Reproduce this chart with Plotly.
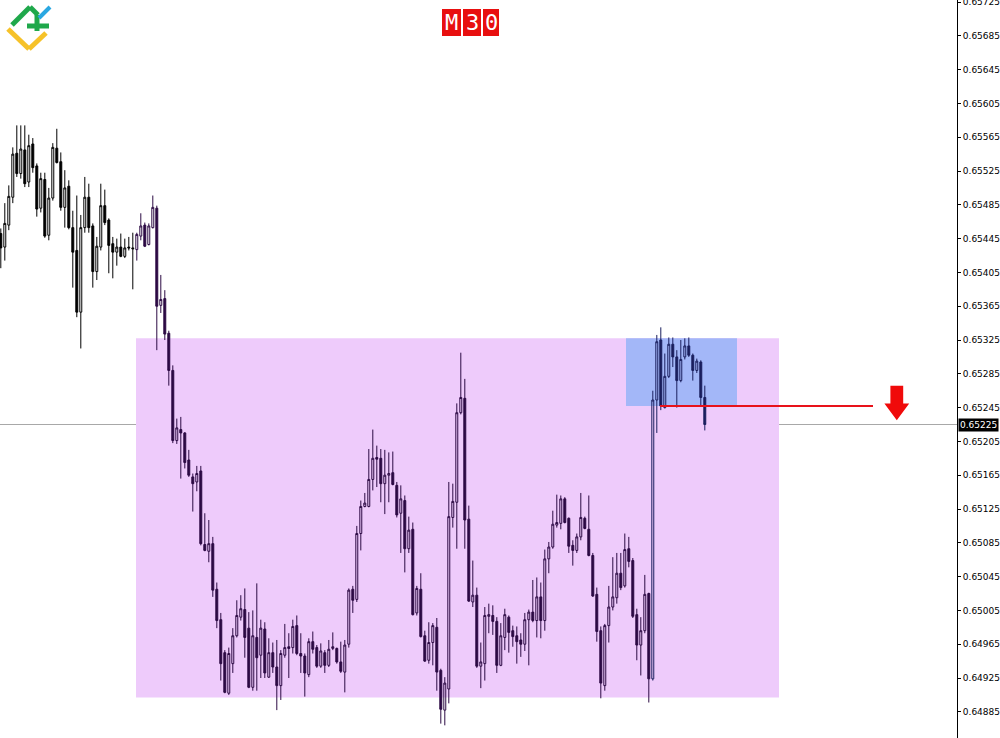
import plotly.graph_objects as go

# ---------------- data ----------------
opens = [
    0.65451, 0.65435, 0.65461, 0.65494, 0.65546, 0.65522, 0.65550, 0.65512, 0.65557, 0.65531,
    0.65481, 0.65515, 0.65449, 0.65493, 0.65552, 0.65536, 0.65482, 0.65507, 0.65458, 0.65431,
    0.65358, 0.65458, 0.65494, 0.65460, 0.65406, 0.65435, 0.65484, 0.65467, 0.65439, 0.65429,
    0.65435, 0.65424, 0.65435, 0.65434, 0.65432, 0.65448, 0.65461, 0.65438, 0.65458, 0.65481,
    0.65366, 0.65374, 0.65333, 0.65289, 0.65206, 0.65219, 0.65215, 0.65183, 0.65163, 0.65157,
    0.65170, 0.65083, 0.65075, 0.65084, 0.65030, 0.64994, 0.64955, 0.64907, 0.64942, 0.64975,
    0.64997, 0.65006, 0.64984, 0.64914, 0.64973, 0.64952, 0.64983, 0.64926, 0.64955, 0.64938,
    0.64916, 0.64952, 0.64962, 0.64961, 0.64987, 0.64954, 0.64951, 0.64929, 0.64968, 0.64961,
    0.64939, 0.64955, 0.64940, 0.64960, 0.64960, 0.64944, 0.64932, 0.64965, 0.65030, 0.65018,
    0.65096, 0.65128, 0.65128, 0.65160, 0.65186, 0.65185, 0.65155, 0.65165, 0.65168, 0.65153,
    0.65120, 0.65135, 0.65078, 0.65101, 0.65002, 0.65030, 0.64975, 0.64946, 0.64967, 0.64985,
    0.64934, 0.64887, 0.64912, 0.65115, 0.65133, 0.65239, 0.65256, 0.65113, 0.65015, 0.65023,
    0.64939, 0.64942, 0.64998, 0.64999, 0.64992, 0.64940, 0.64973, 0.64997, 0.64981, 0.64975,
    0.64970, 0.64965, 0.64994, 0.65003, 0.64993, 0.65021, 0.64993, 0.65066, 0.65080, 0.65106,
    0.65108, 0.65137, 0.65114, 0.65082, 0.65076, 0.65092, 0.65114, 0.65101, 0.65070, 0.65024,
    0.64981, 0.64916, 0.64987, 0.65009, 0.65020, 0.65049, 0.65034, 0.65078, 0.65064, 0.65000,
    0.64964, 0.64981, 0.65025, 0.64924, 0.65254, 0.65325, 0.65245, 0.65282, 0.65320, 0.65305,
    0.65277, 0.65305, 0.65318, 0.65307, 0.65289, 0.65299, 0.65257,
]
highs = [
    0.65457, 0.65487, 0.65508, 0.65553, 0.65579, 0.65579, 0.65579, 0.65568, 0.65564, 0.65534,
    0.65523, 0.65523, 0.65505, 0.65558, 0.65575, 0.65547, 0.65526, 0.65514, 0.65478, 0.65496,
    0.65473, 0.65518, 0.65510, 0.65463, 0.65447, 0.65510, 0.65503, 0.65469, 0.65447, 0.65445,
    0.65451, 0.65445, 0.65447, 0.65452, 0.65452, 0.65475, 0.65464, 0.65463, 0.65496, 0.65484,
    0.65402, 0.65384, 0.65336, 0.65295, 0.65232, 0.65234, 0.65216, 0.65195, 0.65167, 0.65176,
    0.65176, 0.65120, 0.65112, 0.65092, 0.65038, 0.65002, 0.64958, 0.64961, 0.64984, 0.65017,
    0.65023, 0.65031, 0.65003, 0.65005, 0.65037, 0.64994, 0.64991, 0.64972, 0.64967, 0.64970,
    0.64958, 0.64989, 0.64978, 0.64994, 0.64999, 0.64978, 0.64954, 0.64972, 0.64980, 0.64964,
    0.64966, 0.64958, 0.64970, 0.64979, 0.64961, 0.64968, 0.64970, 0.65031, 0.65034, 0.65105,
    0.65135, 0.65144, 0.65196, 0.65219, 0.65200, 0.65196, 0.65195, 0.65192, 0.65193, 0.65157,
    0.65153, 0.65141, 0.65116, 0.65109, 0.65034, 0.65049, 0.64981, 0.64991, 0.64990, 0.64996,
    0.64936, 0.64926, 0.65157, 0.65155, 0.65250, 0.65310, 0.65279, 0.65129, 0.65064, 0.65032,
    0.64967, 0.65009, 0.65013, 0.65011, 0.64997, 0.64990, 0.65007, 0.64999, 0.64987, 0.64986,
    0.64978, 0.65002, 0.65006, 0.65041, 0.65044, 0.65038, 0.65077, 0.65086, 0.65123, 0.65142,
    0.65141, 0.65139, 0.65115, 0.65088, 0.65096, 0.65144, 0.65116, 0.65141, 0.65073, 0.65032,
    0.64986, 0.64989, 0.65034, 0.65068, 0.65073, 0.65073, 0.65096, 0.65092, 0.65067, 0.65007,
    0.64997, 0.65047, 0.65026, 0.65265, 0.65331, 0.65340, 0.65309, 0.65328, 0.65328, 0.65313,
    0.65325, 0.65327, 0.65328, 0.65309, 0.65303, 0.65301, 0.65271,
]
lows = [
    0.65410, 0.65419, 0.65455, 0.65487, 0.65518, 0.65516, 0.65506, 0.65506, 0.65523, 0.65471,
    0.65476, 0.65446, 0.65443, 0.65490, 0.65534, 0.65478, 0.65458, 0.65456, 0.65387, 0.65352,
    0.65315, 0.65452, 0.65452, 0.65387, 0.65396, 0.65431, 0.65461, 0.65404, 0.65398, 0.65413,
    0.65423, 0.65422, 0.65431, 0.65385, 0.65419, 0.65443, 0.65435, 0.65437, 0.65457, 0.65313,
    0.65357, 0.65325, 0.65271, 0.65203, 0.65202, 0.65161, 0.65173, 0.65163, 0.65122, 0.65146,
    0.65082, 0.65075, 0.65062, 0.65021, 0.64984, 0.64922, 0.64907, 0.64905, 0.64931, 0.64973,
    0.64993, 0.64949, 0.64913, 0.64910, 0.64910, 0.64925, 0.64925, 0.64925, 0.64931, 0.64887,
    0.64899, 0.64949, 0.64925, 0.64954, 0.64952, 0.64931, 0.64903, 0.64926, 0.64954, 0.64937,
    0.64937, 0.64931, 0.64938, 0.64958, 0.64942, 0.64931, 0.64908, 0.64961, 0.65002, 0.65015,
    0.65076, 0.65127, 0.65127, 0.65147, 0.65151, 0.65133, 0.65119, 0.65133, 0.65153, 0.65115,
    0.65073, 0.65050, 0.65073, 0.64999, 0.64999, 0.64973, 0.64944, 0.64942, 0.64940, 0.64910,
    0.64871, 0.64869, 0.64895, 0.65103, 0.65078, 0.65237, 0.65078, 0.65015, 0.65009, 0.64937,
    0.64913, 0.64922, 0.64978, 0.64976, 0.64931, 0.64939, 0.64958, 0.64955, 0.64962, 0.64942,
    0.64950, 0.64957, 0.64940, 0.64991, 0.64973, 0.64972, 0.64981, 0.65049, 0.65078, 0.65103,
    0.65101, 0.65108, 0.65073, 0.65058, 0.65073, 0.65088, 0.65101, 0.65069, 0.65021, 0.64968,
    0.64901, 0.64910, 0.64967, 0.65005, 0.65013, 0.65029, 0.65032, 0.65056, 0.64996, 0.64946,
    0.64928, 0.64978, 0.64896, 0.64922, 0.65215, 0.65242, 0.65244, 0.65280, 0.65293, 0.65245,
    0.65275, 0.65302, 0.65305, 0.65277, 0.65286, 0.65248, 0.65218,
]
closes = [
    0.65434, 0.65463, 0.65495, 0.65545, 0.65522, 0.65551, 0.65510, 0.65555, 0.65529, 0.65480,
    0.65516, 0.65448, 0.65493, 0.65553, 0.65535, 0.65482, 0.65505, 0.65458, 0.65429, 0.65358,
    0.65458, 0.65494, 0.65458, 0.65406, 0.65436, 0.65484, 0.65464, 0.65437, 0.65429, 0.65435,
    0.65424, 0.65434, 0.65434, 0.65433, 0.65450, 0.65460, 0.65436, 0.65460, 0.65482, 0.65365,
    0.65373, 0.65332, 0.65289, 0.65206, 0.65221, 0.65215, 0.65180, 0.65165, 0.65155, 0.65167,
    0.65084, 0.65076, 0.65084, 0.65029, 0.64993, 0.64942, 0.64908, 0.64954, 0.64975, 0.64999,
    0.65007, 0.64973, 0.64914, 0.64975, 0.64949, 0.64984, 0.64931, 0.64955, 0.64938, 0.64916,
    0.64954, 0.64961, 0.64960, 0.64986, 0.64954, 0.64951, 0.64931, 0.64968, 0.64959, 0.64939,
    0.64957, 0.64940, 0.64959, 0.64962, 0.64944, 0.64933, 0.64964, 0.65029, 0.65017, 0.65096,
    0.65128, 0.65132, 0.65160, 0.65185, 0.65184, 0.65155, 0.65165, 0.65167, 0.65154, 0.65118,
    0.65137, 0.65078, 0.65100, 0.65000, 0.65031, 0.64974, 0.64945, 0.64967, 0.64987, 0.64932,
    0.64888, 0.64919, 0.65116, 0.65134, 0.65239, 0.65257, 0.65112, 0.65016, 0.65023, 0.64939,
    0.64944, 0.64999, 0.65000, 0.64992, 0.64940, 0.64975, 0.65000, 0.64979, 0.64974, 0.64968,
    0.64965, 0.64994, 0.65003, 0.64993, 0.65021, 0.64993, 0.65066, 0.65080, 0.65107, 0.65109,
    0.65137, 0.65109, 0.65081, 0.65076, 0.65092, 0.65115, 0.65102, 0.65070, 0.65022, 0.64980,
    0.64919, 0.64987, 0.65009, 0.65021, 0.65049, 0.65032, 0.65077, 0.65063, 0.64998, 0.64964,
    0.64981, 0.65024, 0.64924, 0.65254, 0.65323, 0.65247, 0.65282, 0.65320, 0.65305, 0.65277,
    0.65302, 0.65318, 0.65307, 0.65289, 0.65300, 0.65257, 0.65225,
]
bar_index = list(range(len(opens)))

tick_values = [0.65725, 0.65685, 0.65645, 0.65605, 0.65565, 0.65525, 0.65485, 0.65445,
               0.65405, 0.65365, 0.65325, 0.65285, 0.65245, 0.65205, 0.65165, 0.65125,
               0.65085, 0.65045, 0.65005, 0.64965, 0.64925, 0.64885]
tick_labels = [f"{v:.5f}" for v in tick_values]

last_price = 0.65225
timeframe = "M30"

# zones / levels (price, bar-index units)
zone_top, zone_bottom, zone_start, zone_end = 0.65327, 0.64902, 33.8, 194.55
box_top, box_bottom, box_start, box_end = 0.65327, 0.65247, 156.3, 184.05
level_price, level_start, level_end = 0.65247, 164.8, 218.05
arrow_center, arrow_top, arrow_neck, arrow_tip = 224.0, 0.65271, 0.65250, 0.65230

# candle colour segments: (first bar, end bar, colour)
segments = [(0, 34, "#000000"), (34, 163, "#2c0a44"), (163, 177, "#1a1f5e")]

Y_RANGE = [0.64854, 0.657274]
X_RANGE = [-0.2, 239.05]
PLOT_W, PLOT_H = 957, 738


def px(x):
    return x / PLOT_W


def py(y):
    return 1 - y / PLOT_H


fig = go.Figure()

for a, b, col in segments:
    fig.add_trace(go.Candlestick(
        x=bar_index[a:b], open=opens[a:b], high=highs[a:b],
        low=lows[a:b], close=closes[a:b],
        increasing=dict(line=dict(color=col, width=1), fillcolor="rgba(0,0,0,0)"),
        decreasing=dict(line=dict(color=col, width=1), fillcolor=col),
        whiskerwidth=0, showlegend=False, hoverinfo="skip",
    ))

shapes = []
# pink zone
shapes.append(dict(type="rect", xref="x", yref="y", x0=zone_start, x1=zone_end,
                   y0=zone_bottom, y1=zone_top, fillcolor="#eecbfb",
                   line=dict(width=0), layer="below"))
# blue box
shapes.append(dict(type="rect", xref="x", yref="y", x0=box_start, x1=box_end,
                   y0=box_bottom, y1=box_top, fillcolor="#a3b7f8",
                   line=dict(width=0), layer="below"))
# current price line
shapes.append(dict(type="line", xref="paper", yref="y", x0=0, x1=1,
                   y0=last_price, y1=last_price, line=dict(color="#a8a8a8", width=1),
                   layer="below"))
# red level
shapes.append(dict(type="line", xref="x", yref="y", x0=level_start, x1=level_end,
                   y0=level_price, y1=level_price, line=dict(color="#e8121a", width=2)))
# red arrow
hw, sw = 3.1, 1.6
ax = arrow_center
arrow_path = (f"M {ax - sw},{arrow_top} L {ax + sw},{arrow_top} L {ax + sw},{arrow_neck} "
              f"L {ax + hw},{arrow_neck} L {ax},{arrow_tip} L {ax - hw},{arrow_neck} "
              f"L {ax - sw},{arrow_neck} Z")
shapes.append(dict(type="path", xref="x", yref="y", path=arrow_path,
                   fillcolor="#f00a0a", line=dict(width=0)))


# logo
def seg(x0, y0, x1, y1, col, w=4):
    return dict(type="line", xref="paper", yref="paper", x0=px(x0), y0=py(y0),
                x1=px(x1), y1=py(y1), line=dict(color=col, width=w))


shapes += [
    seg(8, 29, 29, 49, "#f6c229", 5), seg(29, 49, 46, 33, "#f6c229", 5),
    seg(12, 25, 30, 7, "#1fa84b", 5), seg(30, 7, 38, 15, "#1fa84b", 5),
    seg(27, 26, 49, 26, "#1fa84b", 5), seg(37, 15, 37, 31, "#1fa84b", 5),
    seg(39, 18, 50, 7, "#2aa7e1", 4),
]

# M30 cells
cells = [(442, 461), (463, 481), (483, 499)]
annotations = []
for (c0, c1), ch in zip(cells, timeframe):
    shapes.append(dict(type="rect", xref="paper", yref="paper", x0=px(c0), x1=px(c1),
                       y0=py(36), y1=py(9), fillcolor="#e80f0f", line=dict(width=0)))
    annotations.append(dict(xref="paper", yref="paper", x=px((c0 + c1) / 2), y=py(22.5),
                            text=ch, showarrow=False, xanchor="center", yanchor="middle",
                            font=dict(family="DejaVu Sans Mono", size=22, color="white")))

# current price tag
annotations.append(dict(xref="paper", yref="y", x=1, y=last_price, xanchor="left",
                        yanchor="middle", xshift=1, text=f"{last_price:.5f}",
                        showarrow=False, bgcolor="#000000", borderpad=1,
                        font=dict(family="DejaVu Sans", size=9, color="white")))

fig.update_layout(
    width=1000, height=738,
    margin=dict(l=0, r=43, t=0, b=0, autoexpand=False),
    paper_bgcolor="white", plot_bgcolor="white",
    shapes=shapes, annotations=annotations,
    xaxis=dict(range=X_RANGE, visible=False, rangeslider=dict(visible=False),
               fixedrange=True, automargin=False),
    yaxis=dict(range=Y_RANGE, side="right", showgrid=False, zeroline=False,
               showline=True, linecolor="black", linewidth=1, automargin=False,
               ticks="outside", ticklen=3, tickcolor="black",
               tickvals=tick_values, ticktext=tick_labels, ticklabeloverflow="allow",
               tickfont=dict(family="DejaVu Sans", size=9, color="black")),
    showlegend=False,
)

fig.write_html("out.html", config={"displayModeBar": False},
               post_script="document.body.style.margin='0';")
